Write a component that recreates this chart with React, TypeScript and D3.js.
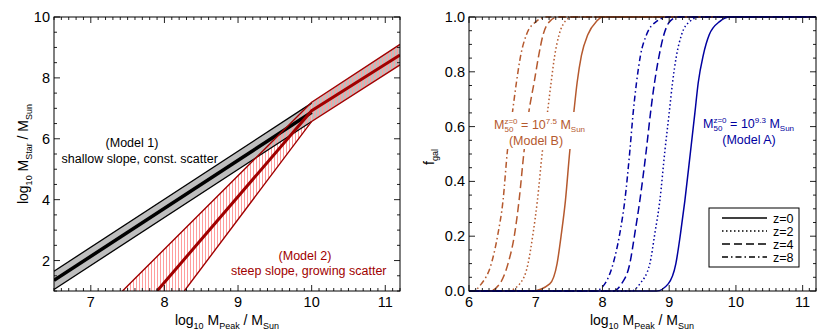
import * as d3 from 'd3'

const FONT = '"Liberation Sans", Arial, Helvetica, sans-serif'
const RED = '#a00000'
const ORANGE = '#b5592e'
const BLUE = '#0000a0'

// ---- left panel: log10 M_Star vs log10 M_Peak ----
const model1Upper: [number, number][] = [[6.5, 1.65], [10.0, 7.17]]
const model1Mid: [number, number][] = [[6.5, 1.35], [10.0, 6.87]]
const model1Lower: [number, number][] = [[6.5, 1.05], [10.0, 6.57]]
const model2Upper: [number, number][] = [[7.43, 1.0], [10.0, 7.2], [11.2, 9.1]]
const model2Mid: [number, number][] = [[7.9, 1.0], [10.0, 6.92], [11.2, 8.75]]
const model2Lower: [number, number][] = [[8.27, 1.0], [10.0, 6.57], [11.2, 8.43]]

const leftXTicks = [7, 8, 9, 10, 11]
const leftYTicks = [2, 4, 6, 8, 10]

// ---- right panel: f_gal vs log10 M_Peak ----
const modelB_z0: [number, number][] = [[6.0, 0], [6.95, 0], [7.21, 0.026], [7.32, 0.1], [7.385, 0.21], [7.445, 0.33], [7.51, 0.51], [7.57, 0.65], [7.62, 0.76], [7.685, 0.86], [7.78, 0.935], [7.91, 0.984], [8.0, 1], [11.2, 1]]
const modelB_z2: [number, number][] = [[6.0, 0], [6.58, 0], [6.76, 0.026], [6.885, 0.1], [6.96, 0.21], [7.025, 0.33], [7.1, 0.51], [7.175, 0.65], [7.23, 0.76], [7.285, 0.86], [7.35, 0.935], [7.44, 0.984], [7.55, 1], [11.2, 1]]
const modelB_z4: [number, number][] = [[6.0, 0], [6.31, 0], [6.46, 0.026], [6.585, 0.1], [6.685, 0.21], [6.75, 0.33], [6.825, 0.51], [6.895, 0.65], [6.975, 0.76], [7.045, 0.86], [7.11, 0.935], [7.21, 0.984], [7.335, 1], [11.2, 1]]
const modelB_z8: [number, number][] = [[6.0, 0], [6.06, 0], [6.185, 0.026], [6.335, 0.1], [6.435, 0.21], [6.51, 0.33], [6.575, 0.51], [6.65, 0.65], [6.71, 0.76], [6.775, 0.86], [6.86, 0.935], [7.01, 0.984], [7.16, 1], [11.2, 1]]
const modelA_z0: [number, number][] = [[6.0, 0], [8.81, 0], [8.985, 0.026], [9.1, 0.1], [9.17, 0.21], [9.235, 0.33], [9.32, 0.51], [9.385, 0.65], [9.435, 0.76], [9.51, 0.86], [9.6, 0.935], [9.76, 0.984], [9.91, 1], [11.2, 1]]
const modelA_z2: [number, number][] = [[6.0, 0], [8.435, 0], [8.56, 0.026], [8.71, 0.1], [8.785, 0.21], [8.86, 0.33], [8.935, 0.51], [9.0, 0.65], [9.05, 0.76], [9.11, 0.86], [9.185, 0.935], [9.31, 0.984], [9.46, 1], [11.2, 1]]
const modelA_z4: [number, number][] = [[6.0, 0], [8.16, 0], [8.285, 0.026], [8.41, 0.1], [8.485, 0.21], [8.56, 0.33], [8.655, 0.51], [8.72, 0.65], [8.78, 0.76], [8.85, 0.86], [8.92, 0.935], [9.01, 0.984], [9.135, 1], [11.2, 1]]
const modelA_z8: [number, number][] = [[6.0, 0], [7.885, 0], [8.035, 0.026], [8.16, 0.1], [8.26, 0.21], [8.335, 0.33], [8.41, 0.51], [8.46, 0.65], [8.51, 0.76], [8.57, 0.86], [8.66, 0.935], [8.81, 0.984], [8.985, 1], [11.2, 1]]

const redshifts = ['z=0', 'z=2', 'z=4', 'z=8']
const dashes = ['none', '1.5,2.5', '8,4', '6,3,1.5,3']
const rightXTicks = [6, 7, 8, 9, 10, 11]
const rightYTicks = [0, 0.2, 0.4, 0.6, 0.8, 1.0]

const xL = d3.scaleLinear().domain([6.5, 11.2]).range([54, 400])
const yL = d3.scaleLinear().domain([1, 10]).range([291, 17])
const xR = d3.scaleLinear().domain([6, 11.2]).range([469, 816])
const yR = d3.scaleLinear().domain([0, 1]).range([291, 17])

const minors = (a: number, b: number, step: number) =>
  d3.range(Math.round(a / step), Math.round(b / step) + 1).map((i) => +(i * step).toFixed(3))

function Frame({ x, y, xTicks, yTicks, xStep, yStep, yFmt }: any) {
  const [x0, x1] = x.range()
  const [y1, y0] = y.range()
  const [dx0, dx1] = x.domain()
  const [dy0, dy1] = y.domain()
  const xm = minors(dx0, dx1, xStep).filter((v: number) => !xTicks.includes(v))
  const ym = minors(dy0, dy1, yStep).filter((v: number) => !yTicks.some((t: number) => Math.abs(t - v) < 1e-6))
  return (
    <g stroke="#222" strokeWidth={1}>
      {xm.map((v: number) => (
        <g key={'xm' + v}>
          <line x1={x(v)} x2={x(v)} y1={y1} y2={y1 - 3} />
          <line x1={x(v)} x2={x(v)} y1={y0} y2={y0 + 3} />
        </g>
      ))}
      {xTicks.map((v: number) => (
        <g key={'x' + v}>
          <line x1={x(v)} x2={x(v)} y1={y1} y2={y1 - 6} />
          <line x1={x(v)} x2={x(v)} y1={y0} y2={y0 + 6} />
          <text x={x(v)} y={y1 + 16} textAnchor="middle" stroke="none" fill="#000" fontSize={14.5}>{v}</text>
        </g>
      ))}
      {ym.map((v: number) => (
        <g key={'ym' + v}>
          <line x1={x0} x2={x0 + 3} y1={y(v)} y2={y(v)} />
          <line x1={x1} x2={x1 - 3} y1={y(v)} y2={y(v)} />
        </g>
      ))}
      {yTicks.map((v: number) => (
        <g key={'y' + v}>
          <line x1={x0} x2={x0 + 6} y1={y(v)} y2={y(v)} />
          <line x1={x1} x2={x1 - 6} y1={y(v)} y2={y(v)} />
          <text x={x0 - 4} y={y(v) + 5} textAnchor="end" stroke="none" fill="#000" fontSize={14.5}>{yFmt(v)}</text>
        </g>
      ))}
      <rect x={x0} y={y0} width={x1 - x0} height={y1 - y0} fill="none" stroke="#000" />
    </g>
  )
}

function M50Label({ x, y, exp, model, cx, color }: any) {
  return (
    <g fill={color} style={{ whiteSpace: 'pre' }}>
      <text x={x} y={y} fontSize={12.5}>
        M<tspan fontSize={8} dy={-5.5}>z=0</tspan>
        <tspan fontSize={8} dx={-13} dy={8}>50</tspan>
        <tspan dx={4.2} dy={-2.5}>{' = 10'}</tspan>
        <tspan fontSize={8} dy={-5.5}>{exp}</tspan>
        <tspan dy={5.5}>{' M'}</tspan>
        <tspan fontSize={8} dy={2.5}>Sun</tspan>
      </text>
      <text x={cx} y={y + 15.5} fontSize={12.5} textAnchor="middle">({model})</text>
    </g>
  )
}

const line = (sx: any, sy: any) => d3.line<[number, number]>().x((d) => sx(d[0])).y((d) => sy(d[1]))
const curve = d3.line<[number, number]>().x((d) => xR(d[0])).y((d) => yR(d[1])).curve(d3.curveMonotoneX)

export default function App() {
  const ll = line(xL, yL)
  const band1 = ll([...model1Upper, ...[...model1Lower].reverse()])
  const band2 = ll([...model2Upper, ...[...model2Lower].reverse()])
  const highU = model2Upper.filter((d) => d[0] >= 10)
  const highL = model2Lower.filter((d) => d[0] >= 10)
  const bandHigh = ll([...highU, ...[...highL].reverse()])
  const modelB = [modelB_z0, modelB_z2, modelB_z4, modelB_z8]
  const modelA = [modelA_z0, modelA_z2, modelA_z4, modelA_z8]

  return (
    <svg width={830} height={332} style={{ position: 'absolute', left: 0, top: 0 }} fontFamily={FONT}>
      <defs>
        <clipPath id="clipL"><rect x={54} y={17} width={346} height={274} /></clipPath>
        <clipPath id="clipR"><rect x={469} y={15} width={347} height={278} /></clipPath>
        <pattern id="hatch" patternUnits="userSpaceOnUse" width={3} height={10}>
          <line x1={1.5} x2={1.5} y1={0} y2={10} stroke="#ff9d9d" strokeWidth={1} />
        </pattern>
      </defs>
      <rect width={830} height={332} fill="#fff" />

      {/* left panel */}
      <g clipPath="url(#clipL)">
        <path d={band1 ?? ''} fill="#bebebe" />
        <path d={bandHigh ?? ''} fill="#bebebe" />
        <path d={band2 ?? ''} fill="url(#hatch)" />
        <path d={ll(model1Upper) ?? ''} fill="none" stroke="#000" strokeWidth={1.3} />
        <path d={ll(model1Lower) ?? ''} fill="none" stroke="#000" strokeWidth={1.3} />
        <path d={ll(model1Mid) ?? ''} fill="none" stroke="#000" strokeWidth={3.5} />
        <path d={ll(model2Upper) ?? ''} fill="none" stroke={RED} strokeWidth={1.4} />
        <path d={ll(model2Lower) ?? ''} fill="none" stroke={RED} strokeWidth={1.4} />
        <path d={ll(model2Mid) ?? ''} fill="none" stroke={RED} strokeWidth={3} />
      </g>
      <Frame x={xL} y={yL} xTicks={leftXTicks} yTicks={leftYTicks} xStep={0.1} yStep={0.5} yFmt={(v: number) => String(v)} />
      <text x={132} y={147} textAnchor="middle" fontSize={12.5}>(Model 1)</text>
      <text x={139.7} y={163} textAnchor="middle" fontSize={12.5}>shallow slope, const. scatter</text>
      <text x={305} y={260} textAnchor="middle" fontSize={12.5} fill={RED}>(Model 2)</text>
      <text x={308.7} y={275} textAnchor="middle" fontSize={12.5} fill={RED}>steep slope, growing scatter</text>
      <text x={227} y={325} textAnchor="middle" fontSize={14} style={{ whiteSpace: 'pre' }}>
        log<tspan fontSize={9} dy={4}>10</tspan><tspan dy={-4}>{' M'}</tspan><tspan fontSize={9} dy={4}>Peak</tspan>
        <tspan dy={-4}>{' / M'}</tspan><tspan fontSize={9} dy={4}>Sun</tspan>
      </text>
      <text transform="translate(28,154) rotate(-90)" textAnchor="middle" fontSize={14} style={{ whiteSpace: 'pre' }}>
        log<tspan fontSize={9} dy={4}>10</tspan><tspan dy={-4}>{' M'}</tspan><tspan fontSize={9} dy={4}>Star</tspan>
        <tspan dy={-4}>{' / M'}</tspan><tspan fontSize={9} dy={4}>Sun</tspan>
      </text>

      {/* right panel */}
      <g clipPath="url(#clipR)" fill="none" strokeWidth={1.5}>
        {modelB.map((c, i) => (
          <path key={'b' + i} d={curve(c) ?? ''} stroke={ORANGE} strokeDasharray={dashes[i]} />
        ))}
        {modelA.map((c, i) => (
          <path key={'a' + i} d={curve(c) ?? ''} stroke={BLUE} strokeDasharray={dashes[i]} />
        ))}
      </g>
      <Frame x={xR} y={yR} xTicks={rightXTicks} yTicks={rightYTicks} xStep={0.1} yStep={0.05} yFmt={(v: number) => v.toFixed(1)} />
      <rect x={489} y={112} width={98} height={37} fill="#fff" />
      <M50Label x={494} y={129} exp="7.5" model="Model B" cx={536} color={ORANGE} />
      <M50Label x={703} y={128} exp="9.3" model="Model A" cx={749} color={BLUE} />

      <g>
        <rect x={709} y={208} width={90} height={59} fill="#fff" stroke="#000" />
        {redshifts.map((z, i) => (
          <g key={z}>
            <line x1={722} x2={767} y1={218 + i * 13} y2={218 + i * 13} stroke="#000" strokeWidth={1.5} strokeDasharray={dashes[i]} />
            <text x={773} y={222.5 + i * 13} fontSize={12.5}>{z}</text>
          </g>
        ))}
      </g>

      <text x={642} y={325} textAnchor="middle" fontSize={14} style={{ whiteSpace: 'pre' }}>
        log<tspan fontSize={9} dy={4}>10</tspan><tspan dy={-4}>{' M'}</tspan><tspan fontSize={9} dy={4}>Peak</tspan>
        <tspan dy={-4}>{' / M'}</tspan><tspan fontSize={9} dy={4}>Sun</tspan>
      </text>
      <text transform="translate(434,157) rotate(-90)" textAnchor="middle" fontSize={14}>
        f<tspan fontSize={9} dy={4}>gal</tspan>
      </text>
    </svg>
  )
}
